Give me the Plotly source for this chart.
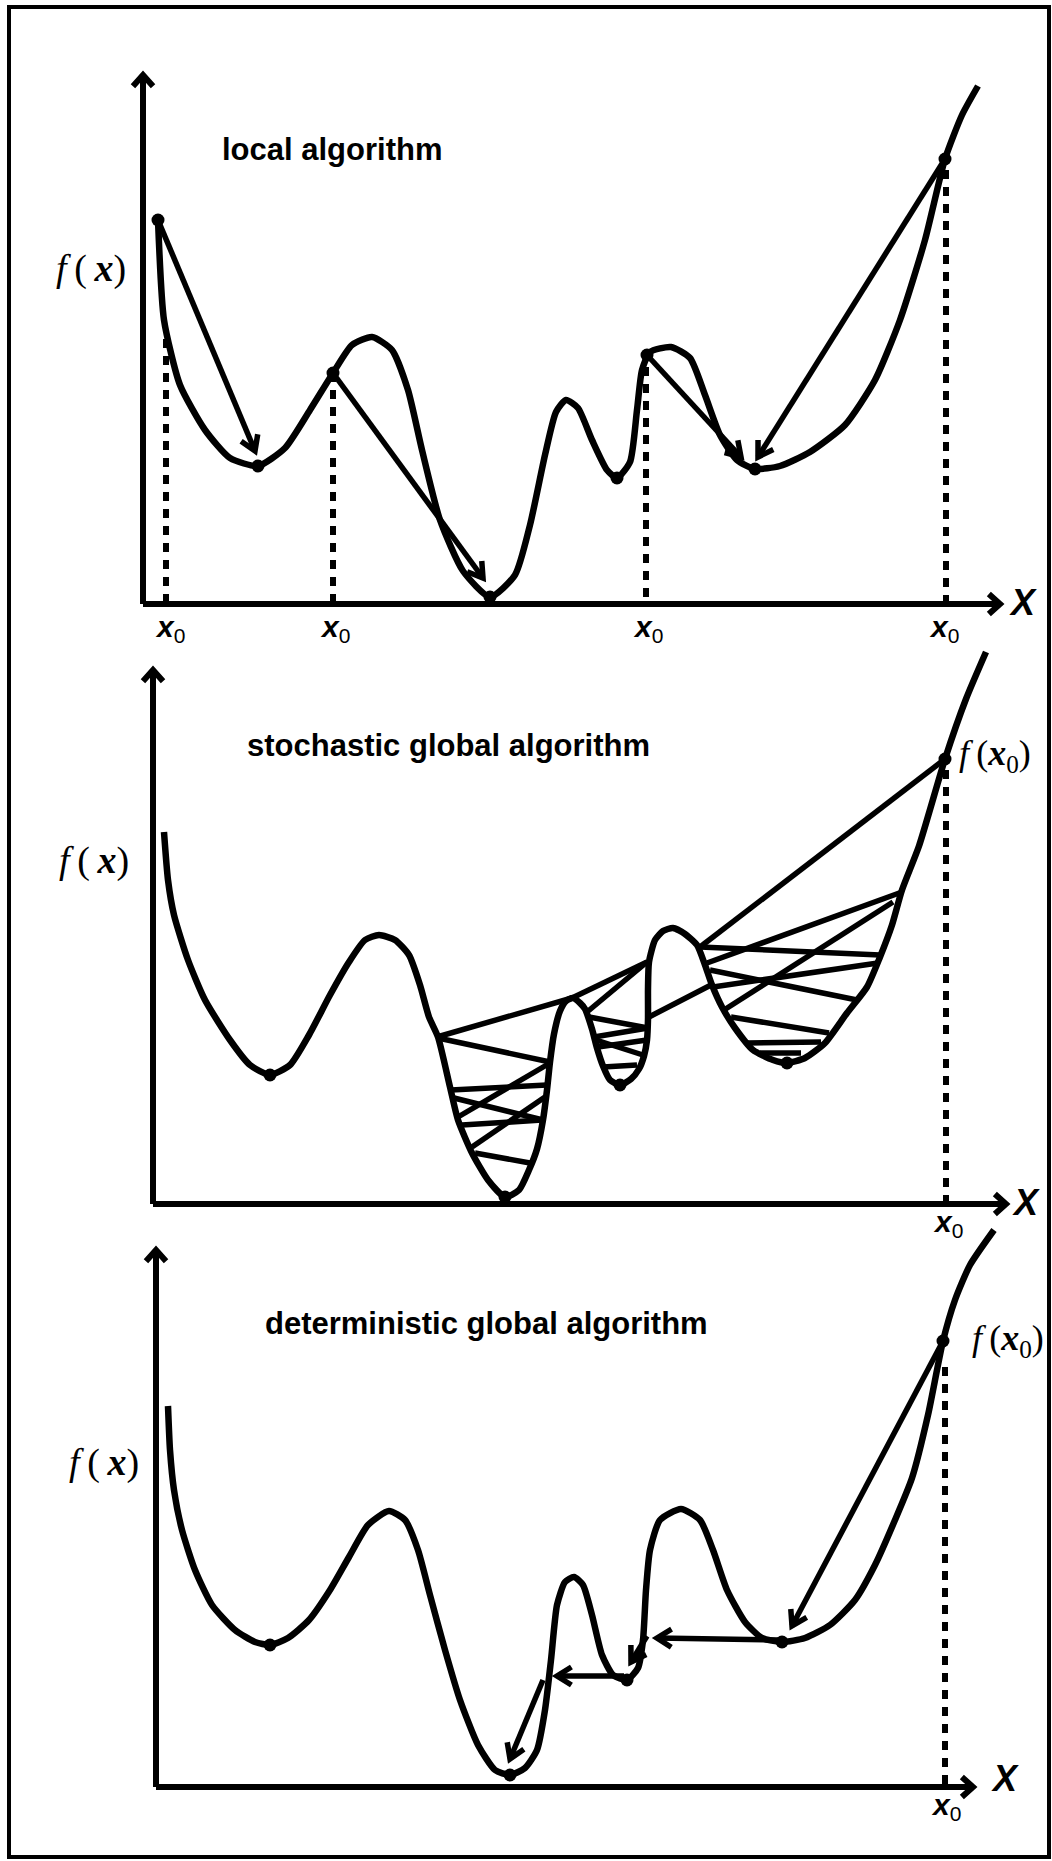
import math
import plotly.graph_objects as go

W, H = 1052, 1861

# ---------------- Panel 1: local algorithm ----------------
p1_x = [0.15, 0.21, 0.37, 0.62, 0.87, 1.15, 1.42, 1.67, 1.90, 2.09, 2.29, 2.49, 2.65, 2.79, 2.97,
        3.20, 3.47, 3.72, 3.87, 4.02, 4.13, 4.23, 4.35, 4.49, 4.64, 4.74, 4.87, 4.94, 4.99, 5.07,
        5.28, 5.47, 5.62, 5.77, 5.94, 6.12, 6.37, 6.67, 7.02, 7.32, 7.57, 7.82, 8.02, 8.19, 8.35]
p1_f = [3.84, 2.84, 2.19, 1.74, 1.46, 1.38, 1.56, 1.94, 2.31, 2.59, 2.67, 2.54, 2.14, 1.54, 0.84,
        0.33, 0.07, 0.29, 0.79, 1.49, 1.92, 2.04, 1.96, 1.64, 1.34, 1.26, 1.42, 1.94, 2.34, 2.52,
        2.57, 2.46, 2.09, 1.69, 1.44, 1.35, 1.38, 1.52, 1.79, 2.24, 2.84, 3.64, 4.45, 4.89, 5.18]
p1_dot_x = [0.15, 1.15, 1.90, 3.47, 4.74, 5.04, 6.12, 8.02]
p1_dot_f = [3.84, 1.38, 2.31, 0.07, 1.26, 2.49, 1.35, 4.45]
p1_arrow_tail_x = [0.15, 1.90, 5.04, 8.02]
p1_arrow_tail_f = [3.84, 2.31, 2.49, 4.45]
p1_arrow_head_x = [1.12, 3.40, 5.98, 6.15]
p1_arrow_head_f = [1.53, 0.26, 1.47, 1.47]
p1_x0 = [0.23, 1.90, 5.03, 8.03]
p1_x0_top = [2.65, 2.31, 2.37, 4.34]
p1_x0_label_x = [0.27, 1.92, 5.05, 8.01]

# ---------------- Panel 2: stochastic global algorithm ----------------
p2_x = [0.11, 0.15, 0.21, 0.35, 0.52, 0.77, 0.97, 1.17, 1.37, 1.56, 1.77, 1.96, 2.12, 2.26, 2.42,
        2.56, 2.67, 2.76, 2.85, 2.97, 3.05, 3.19, 3.35, 3.52, 3.66, 3.76, 3.84, 3.90, 3.94, 3.97,
        4.01, 4.07, 4.13, 4.20, 4.27, 4.32, 4.39, 4.44, 4.50, 4.57, 4.67, 4.78, 4.86, 4.91, 4.94,
        4.95, 4.95, 4.96, 5.02, 5.10, 5.20, 5.32, 5.44, 5.52, 5.59, 5.69, 5.82, 6.00, 6.20, 6.34,
        6.52, 6.72, 6.94, 7.14, 7.27, 7.39, 7.49, 7.66, 7.92, 8.13, 8.33]
p2_f = [3.72, 3.24, 2.89, 2.44, 2.04, 1.64, 1.39, 1.29, 1.39, 1.69, 2.09, 2.42, 2.64, 2.69, 2.64,
        2.49, 2.19, 1.87, 1.67, 1.17, 0.84, 0.51, 0.24, 0.07, 0.14, 0.34, 0.55, 0.84, 1.14, 1.42,
        1.70, 1.93, 2.03, 2.06, 2.01, 1.95, 1.75, 1.56, 1.38, 1.24, 1.19, 1.25, 1.35, 1.48, 1.64,
        1.85, 2.15, 2.42, 2.64, 2.73, 2.76, 2.70, 2.59, 2.39, 2.19, 1.97, 1.76, 1.54, 1.44, 1.41,
        1.46, 1.61, 1.91, 2.17, 2.47, 2.79, 3.14, 3.58, 4.45, 5.05, 5.52]
p2_dot_x = [1.17, 3.52, 4.67, 6.34, 7.92]
p2_dot_f = [1.29, 0.07, 1.19, 1.41, 4.45]
# random sampling jumps: start (x, f) -> end (x, f)
p2_jump_x0 = [7.92, 2.84, 4.19, 4.94, 4.36, 4.95, 4.45, 4.43, 4.50, 4.96,
              2.85, 3.97, 2.98, 3.01, 3.09, 3.92, 3.22,
              5.47, 7.49, 7.40, 5.57, 5.60, 5.78, 5.94, 6.07]
p2_jump_f0 = [4.45, 1.67, 2.06, 2.42, 1.87, 1.76, 1.57, 1.64, 1.37, 1.87,
              1.66, 1.41, 1.14, 1.06, 0.79, 1.07, 0.51,
              2.57, 3.12, 3.02, 2.34, 2.17, 1.87, 1.61, 1.51]
p2_jump_x1 = [5.47, 4.19, 4.94, 4.34, 4.95, 4.41, 4.94, 4.90, 4.84, 5.58,
              3.97, 3.05, 3.94, 3.90, 3.89, 3.19, 3.77,
              7.27, 5.54, 5.71, 7.04, 7.25, 6.76, 6.68, 6.48]
p2_jump_f1 = [2.57, 2.06, 2.42, 1.92, 1.76, 1.67, 1.64, 1.49, 1.39, 2.19,
              1.42, 0.87, 1.19, 0.84, 0.84, 0.57, 0.41,
              2.49, 2.41, 1.94, 2.04, 2.41, 1.71, 1.62, 1.51]
p2_x0 = 7.93
p2_x0_top = 4.34

# ---------------- Panel 3: deterministic global algorithm ----------------
p3_x = [0.12, 0.14, 0.18, 0.26, 0.39, 0.56, 0.79, 0.99, 1.14, 1.32, 1.53, 1.74, 1.93, 2.12, 2.33,
        2.49, 2.62, 2.74, 2.89, 3.04, 3.22, 3.39, 3.54, 3.69, 3.81, 3.89, 3.95, 4.01, 4.09, 4.18,
        4.27, 4.36, 4.46, 4.57, 4.71, 4.82, 4.87, 4.90, 4.94, 5.04, 5.25, 5.44, 5.57, 5.71, 5.89,
        6.06, 6.26, 6.49, 6.74, 6.99, 7.19, 7.39, 7.56, 7.72, 7.87, 7.99, 8.14, 8.38]
p3_f = [3.81, 3.37, 2.97, 2.57, 2.17, 1.82, 1.57, 1.45, 1.42, 1.49, 1.67, 1.97, 2.30, 2.62, 2.76,
        2.67, 2.37, 1.92, 1.37, 0.87, 0.42, 0.17, 0.12, 0.19, 0.37, 0.77, 1.27, 1.82, 2.05, 2.10,
        2.02, 1.72, 1.32, 1.12, 1.07, 1.19, 1.47, 1.97, 2.37, 2.67, 2.78, 2.67, 2.37, 1.97, 1.65,
        1.49, 1.45, 1.49, 1.62, 1.87, 2.22, 2.67, 3.09, 3.72, 4.46, 4.87, 5.22, 5.57]
p3_dot_x = [1.14, 3.54, 4.71, 6.26, 7.87]
p3_dot_f = [1.42, 0.12, 1.07, 1.45, 4.46]
p3_arrow_tail_x = [7.87, 6.22, 4.91, 4.68, 3.87]
p3_arrow_tail_f = [4.46, 1.47, 1.51, 1.11, 1.07]
p3_arrow_head_x = [6.36, 5.01, 4.75, 4.01, 3.54]
p3_arrow_head_f = [1.61, 1.49, 1.25, 1.11, 0.28]
p3_x0 = 7.89
p3_x0_top = 4.20

# panel frames: page-pixel origin of each panel's axes; axis lengths in data units
panels = [
    dict(ox=143, oy=604, ytop=5.29, xend=8.57, title="local algorithm", tx=1.89, ty=4.55,
         fx=-0.52, fy=3.36, Xx=8.80, Xy=0.02),
    dict(ox=153, oy=1204, ytop=5.34, xend=8.53, title="stochastic global algorithm", tx=2.95, ty=4.59,
         fx=-0.59, fy=3.44, Xx=8.73, Xy=0.02),
    dict(ox=156, oy=1787, ytop=5.37, xend=8.17, title="deterministic global algorithm", tx=3.30, ty=4.64,
         fx=-0.52, fy=3.25, Xx=8.49, Xy=0.09),
]

LW = 6.5
fig = go.Figure()
annotations = []


def axn(i):
    return ("x" if i == 0 else f"x{i+1}", "y" if i == 0 else f"y{i+1}")


def add_curve(i, xs, fs, dx, df):
    xr, yr = axn(i)
    fig.add_trace(go.Scatter(x=xs, y=fs, mode="lines", xaxis=xr, yaxis=yr,
                             line=dict(color="black", width=LW, shape="spline", smoothing=0.6),
                             hoverinfo="skip", showlegend=False))
    fig.add_trace(go.Scatter(x=dx, y=df, mode="markers", xaxis=xr, yaxis=yr,
                             marker=dict(color="black", size=13), hoverinfo="skip", showlegend=False))


def add_dotted(i, xs, tops):
    xr, yr = axn(i)
    lx, ly = [], []
    for x, t in zip(xs, tops):
        lx += [x, x, None]
        ly += [t, 0, None]
    fig.add_trace(go.Scatter(x=lx, y=ly, mode="lines", xaxis=xr, yaxis=yr,
                             line=dict(color="black", width=6, dash="9px,8px"),
                             hoverinfo="skip", showlegend=False))


def add_arrows(i, tails_x, tails_f, heads_x, heads_f, width, length, angle):
    """Shaft from tail to head plus a two-barbed head; both axes share one scale."""
    xr, yr = axn(i)
    ax_, ay_ = [], []
    for tx, tf, hx, hf in zip(tails_x, tails_f, heads_x, heads_f):
        dx, dy = hx - tx, hf - tf
        n = math.hypot(dx, dy)
        ux, uy = dx / n, dy / n
        barbs = []
        for s in (1, -1):
            a = math.radians(angle) * s
            rx = ux * math.cos(a) - uy * math.sin(a)
            ry = ux * math.sin(a) + uy * math.cos(a)
            barbs.append((hx - length * rx, hf - length * ry))
        ax_ += [tx, hx, None, barbs[0][0], hx, barbs[1][0], None]
        ay_ += [tf, hf, None, barbs[0][1], hf, barbs[1][1], None]
    fig.add_trace(go.Scatter(x=ax_, y=ay_, mode="lines", xaxis=xr, yaxis=yr,
                             line=dict(color="black", width=width),
                             hoverinfo="skip", showlegend=False))


def add_text(i, x, y, text, size, family, xanchor="center"):
    xr, yr = axn(i)
    annotations.append(dict(x=x, y=y, xref=xr, yref=yr, text=text, showarrow=False,
                            font=dict(size=size, family=family, color="black"),
                            xanchor=xanchor, yanchor="middle"))


FX = "<i>f</i>\u2009(\u2009<b><i>x</i></b>)"
FX0 = "<i>f</i>\u2009(<b><i>x</i></b><sub>0</sub>)"
X0 = "<b><i>x</i></b><sub>0</sub>"
SANS = "Liberation Sans, Arial, sans-serif"
SERIF = "Liberation Serif, Times New Roman, serif"

for i, p in enumerate(panels):
    # coordinate axes with chevron tips
    add_arrows(i, [0, 0], [0, 0], [0, p["xend"]], [p["ytop"], 0], width=6, length=0.15, angle=42)
    add_text(i, p["tx"], p["ty"], "<b>" + p["title"] + "</b>", 31, SANS)
    add_text(i, p["fx"], p["fy"], FX, 38, SERIF)
    add_text(i, p["Xx"], p["Xy"], "<b><i>X</i></b>", 36, SANS)

# panel 1
add_curve(0, p1_x, p1_f, p1_dot_x, p1_dot_f)
add_dotted(0, p1_x0, p1_x0_top)
add_arrows(0, p1_arrow_tail_x, p1_arrow_tail_f, p1_arrow_head_x, p1_arrow_head_f,
           width=5.5, length=0.17, angle=32)
for lx in p1_x0_label_x:
    add_text(0, lx, -0.24, X0, 30, SANS)

# panel 2
add_curve(1, p2_x, p2_f, p2_dot_x, p2_dot_f)
add_dotted(1, [p2_x0], [p2_x0_top])
jx, jf = [], []
for a, b, c, d in zip(p2_jump_x0, p2_jump_f0, p2_jump_x1, p2_jump_f1):
    jx += [a, c, None]
    jf += [b, d, None]
fig.add_trace(go.Scatter(x=jx, y=jf, mode="lines", xaxis="x2", yaxis="y2",
                         line=dict(color="black", width=5.5), hoverinfo="skip", showlegend=False))
add_text(1, p2_x0 + 0.02, -0.19, X0, 30, SANS)
add_text(1, 8.42, 4.49, FX0, 36, SERIF)

# panel 3
add_curve(2, p3_x, p3_f, p3_dot_x, p3_dot_f)
add_dotted(2, [p3_x0], [p3_x0_top])
add_arrows(2, p3_arrow_tail_x, p3_arrow_tail_f, p3_arrow_head_x, p3_arrow_head_f,
           width=5.5, length=0.17, angle=32)
add_text(2, p3_x0 + 0.01, -0.19, X0, 30, SANS)
add_text(2, 8.52, 4.47, FX0, 36, SERIF)

layout_axes = {}
for i, p in enumerate(panels):
    xr = "xaxis" if i == 0 else f"xaxis{i+1}"
    yr = "yaxis" if i == 0 else f"yaxis{i+1}"
    xa, ya = axn(i)
    layout_axes[xr] = dict(domain=[0, 1], range=[-p["ox"] / 100, (W - p["ox"]) / 100],
                           visible=False, anchor=ya, fixedrange=True)
    layout_axes[yr] = dict(domain=[0, 1], range=[(p["oy"] - H) / 100, p["oy"] / 100],
                           visible=False, anchor=xa, fixedrange=True)

fig.update_layout(
    width=W, height=H,
    margin=dict(l=0, r=0, t=0, b=0),
    paper_bgcolor="white", plot_bgcolor="rgba(0,0,0,0)",
    showlegend=False,
    annotations=annotations,
    shapes=[dict(type="rect", xref="paper", yref="paper",
                 x0=9 / W, x1=1049 / W, y0=1 - 1857 / H, y1=1 - 7 / H,
                 line=dict(color="black", width=4))],
    **layout_axes,
)

fig.write_html("out.html", config={"displayModeBar": False, "staticPlot": True},
               post_script="document.body.style.margin='0px';document.body.style.overflow='hidden';")
